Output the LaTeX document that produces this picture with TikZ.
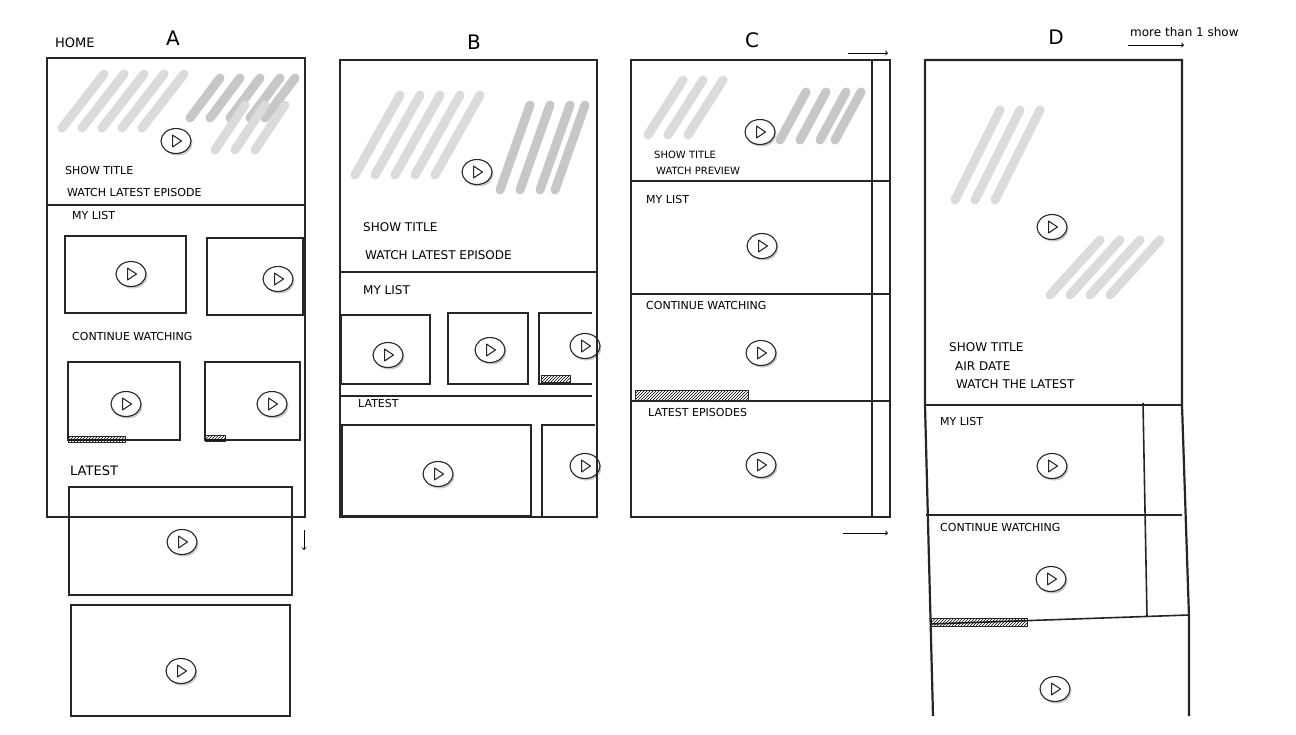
\documentclass[tikz,border=0pt]{standalone}
\usepackage{fontspec}
\setmainfont{DejaVu Sans}
\usetikzlibrary{patterns,shapes.geometric}
\begin{document}
\begin{tikzpicture}[x=1pt,y=-1pt,
  frame/.style={draw=black!85,line width=2.2pt},
  sep/.style={draw=black!85,line width=1.6pt},
  card/.style={draw=black!85,line width=2.2pt},
  lbl/.style={anchor=west,font=\fontsize{11}{12}\selectfont,inner sep=0pt},
  head/.style={font=\fontsize{20}{22}\selectfont,inner sep=0pt},
  play/.style={ellipse,draw=black!85,line width=1.1pt,fill=white,minimum width=30pt,minimum height=25pt,inner sep=0pt,
    preaction={fill=black!22,transform canvas={shift={(1.5pt,-2pt)}}},
    path picture={\draw[line width=1pt,line join=round] ([shift={(-3.5pt,6pt)}]path picture bounding box.center) -- ++(9pt,-6pt) -- ++(-9pt,-6pt) -- cycle;}},
  bar/.style={draw=black!85,line width=0.8pt,pattern=north east lines},
  hatch/.style={draw=black!14,line width=9pt,line cap=round},
  hatchd/.style={draw=black!22,line width=9pt,line cap=round},
  arr/.style={->,line width=0.9pt}]
\useasboundingbox (0,0) rectangle (1296,735);
\fill[white] (0,0) rectangle (1296,735);
% ---------- hatching ----------
\foreach \x in {62,82,102,122,142}{\draw[hatch] (\x,128) -- (\x+42,74);}
\foreach \x in {190,210,230,250,265}{\draw[hatchd] (\x,118) -- (\x+30,78);}
\foreach \x in {215,235,255}{\draw[hatch] (\x,150) -- (\x+30,105);}
\foreach \x in {355,375,395,415,435}{\draw[hatch] (\x,175) -- (\x+45,95);}
\foreach \x in {500,520,540,555}{\draw[hatchd] (\x,190) -- (\x+30,105);}
\foreach \x in {648,668,688}{\draw[hatch] (\x,135) -- (\x+35,80);}
\foreach \x in {780,800,820,835}{\draw[hatchd] (\x,140) -- (\x+26,92);}
\foreach \x in {955,975,995}{\draw[hatch] (\x,200) -- (\x+45,110);}
\foreach \x in {1050,1070,1090,1110}{\draw[hatch] (\x,295) -- (\x+50,240);}
% ---------- headings ----------
\node[lbl,font=\fontsize{13}{14}\selectfont] (home) at (55,43) {HOME};
\node[head] (hA) at (173,38) {A};
\node[head] (hB) at (474,42) {B};
\node[head] (hC) at (752,40) {C};
\node[head] (hD) at (1056,37) {D};
\node[lbl,font=\fontsize{12}{13}\selectfont] (more) at (1130,32) {more than 1 show};
\coordinate (ma1) at (1128,45); \coordinate (ma2) at (1184,45);
\draw[arr] (ma1) -- (ma2);
% ---------- Panel A ----------
\draw[frame] (47,58) rectangle (305,517);
\draw[sep] (47,205) -- (305,205);
\node[play] (pa0) at (176,141) {};
\node[lbl] (ta1) at (65,170) {SHOW TITLE};
\node[lbl] (ta2) at (67,192) {WATCH LATEST EPISODE};
\node[lbl] (ta3) at (72,215) {MY LIST};
\draw[card] (65,236) rectangle (186,313); \node[play] (pa1) at (131,274) {};
\draw[card] (207,238) rectangle (303,315); \node[play] (pa2) at (278,279) {};
\node[lbl] (ta4) at (72,336) {CONTINUE WATCHING};
\draw[card] (68,362) rectangle (180,440); \node[play] (pa3) at (126,404) {};
\draw[card] (205,362) rectangle (300,440); \node[play] (pa4) at (272,404) {};
\draw[bar] (68,436) rectangle (125,442);
\draw[bar] (205,435) rectangle (225,441);
\node[lbl,font=\fontsize{13}{14}\selectfont] (ta5) at (70,471) {LATEST};
\draw[card] (69,487) rectangle (292,595); \node[play] (pa5) at (182,542) {};
\draw[card] (71,605) rectangle (290,716); \node[play] (pa6) at (181,671) {};
\coordinate (da1) at (304,530); \coordinate (da2) at (304,550);
\draw[arr] (da1) -- (da2);
% ---------- Panel B ----------
\draw[frame] (340,60) rectangle (597,517);
\node[play] (pb0) at (477,172) {};
\node[lbl,font=\fontsize{12}{13}\selectfont] (tb1) at (363,227) {SHOW TITLE};
\node[lbl,font=\fontsize{12}{13}\selectfont] (tb2) at (365,255) {WATCH LATEST EPISODE};
\draw[sep] (340,272) -- (597,272);
\node[lbl,font=\fontsize{12}{13}\selectfont] (tb3) at (363,290) {MY LIST};
\draw[card] (341,315) rectangle (430,384); \node[play] (pb1) at (388,355) {};
\draw[card] (448,313) rectangle (528,384); \node[play] (pb2) at (490,350) {};
\draw[card] (592,384) -- (539,384) -- (539,313) -- (592,313);
\node[play] (pb3) at (585,346) {};
\draw[bar] (541,375) rectangle (570,382);
\draw[sep] (340,396) -- (592,396);
\node[lbl] (tb4) at (358,403) {LATEST};
\draw[card] (342,425) rectangle (531,516); \node[play] (pb4) at (438,474) {};
\draw[card] (542,516) -- (542,425) -- (595,425);
\node[play] (pb5) at (585,466) {};
\draw[frame] (597,60) -- (597,517);
% ---------- Panel C ----------
\draw[frame] (631,60) rectangle (890,517);
\draw[sep] (872,60) -- (872,517);
\draw[sep] (631,181) -- (890,181);
\draw[sep] (631,294) -- (890,294);
\draw[sep] (631,401) -- (890,401);
\node[play] (pc0) at (760,132) {};
\node[lbl,font=\fontsize{10}{11}\selectfont] (tc1) at (654,155) {SHOW TITLE};
\node[lbl,font=\fontsize{10}{11}\selectfont] (tc2) at (656,171) {WATCH PREVIEW};
\node[lbl] (tc3) at (646,199) {MY LIST};
\node[play] (pc1) at (762,246) {};
\node[lbl] (tc4) at (646,305) {CONTINUE WATCHING};
\node[play] (pc2) at (761,353) {};
\draw[bar] (635,390) rectangle (748,400);
\node[lbl] (tc5) at (648,412) {LATEST EPISODES};
\node[play] (pc3) at (761,465) {};
\coordinate (ca1) at (848,53); \coordinate (ca2) at (888,53);
\draw[arr] (ca1) -- (ca2);
\coordinate (cb1) at (843,533); \coordinate (cb2) at (888,533);
\draw[arr] (cb1) -- (cb2);
% ---------- Panel D ----------
\draw[frame] (933,716) -- (925,405) -- (925,60) -- (1182,60) -- (1182,405) -- (1189,617) -- (1189,716);
\draw[sep] (925,405) -- (1182,405);
\draw[sep] (926,515) -- (1182,515);
\draw[sep] (930,624) -- (1189,615);
\draw[sep] (1143,403) -- (1147,617);
\node[play] (pd0) at (1052,227) {};
\node[lbl,font=\fontsize{12}{13}\selectfont] (td1) at (949,347) {SHOW TITLE};
\node[lbl,font=\fontsize{12}{13}\selectfont] (td2) at (955,366) {AIR DATE};
\node[lbl,font=\fontsize{12}{13}\selectfont] (td3) at (956,384) {WATCH THE LATEST};
\node[lbl] (td4) at (940,421) {MY LIST};
\node[play] (pd1) at (1052,466) {};
\node[lbl] (td5) at (940,527) {CONTINUE WATCHING};
\node[play] (pd2) at (1051,579) {};
\draw[bar] (931,618) rectangle (1027,626);
\node[play] (pd3) at (1055,689) {};
\end{tikzpicture}
\end{document}
